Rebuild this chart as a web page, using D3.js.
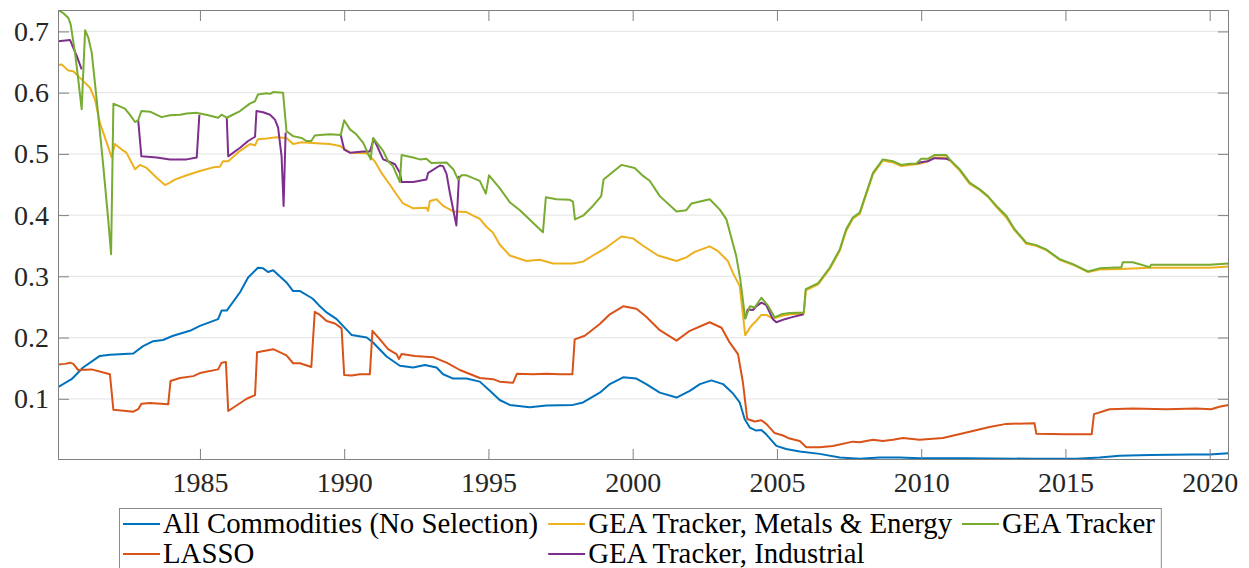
<!DOCTYPE html>
<html lang="en">
<head>
  <meta charset="UTF-8">
  <title>Selection comparison</title>
  <script src="https://cdn.jsdelivr.net/npm/d3@7"></script>
  <style>
    html, body { margin: 0; padding: 0; background: #fff; }
    svg { display: block; }
    svg text { font-family: "Liberation Serif", "Times New Roman", "DejaVu Serif", serif; }
  </style>
</head>
<body>
  <svg id="chart" width="1249" height="568"></svg>
  <script>
    // values, [year, value]
    const allCommodities = [[1980.08,.119],[1980.55,.132],[1980.95,.151],[1981.53,.170],[1981.88,.172],[1982.69,.174],[1983.03,.186],[1983.38,.194],[1983.72,.196],[1984.07,.203],[1984.65,.211],[1985.00,.219],[1985.63,.230],[1985.75,.244],[1985.93,.244],[1986.39,.274],[1986.67,.298],[1987.01,.314],[1987.19,.313],[1987.36,.307],[1987.54,.310],[1988.00,.290],[1988.23,.276],[1988.47,.276],[1988.86,.265],[1988.92,.263],[1989.16,.251],[1989.39,.241],[1989.74,.230],[1990.26,.204],[1990.78,.200],[1991.00,.192],[1991.47,.169],[1991.93,.154],[1992.39,.151],[1992.80,.155],[1993.20,.151],[1993.43,.140],[1993.78,.133],[1994.24,.133],[1994.70,.128],[1995.05,.113],[1995.39,.098],[1995.74,.090],[1996.43,.086],[1997.01,.089],[1997.93,.090],[1998.28,.094],[1998.86,.110],[1999.21,.124],[1999.67,.135],[2000.13,.133],[2000.47,.124],[2000.94,.110],[2001.52,.102],[2001.98,.113],[2002.33,.124],[2002.73,.130],[2003.13,.124],[2003.47,.109],[2003.71,.094],[2003.88,.067],[2004.06,.053],[2004.28,.048],[2004.46,.049],[2004.63,.042],[2004.98,.023],[2005.32,.018],[2005.79,.014],[2006.48,.010],[2007.18,.004],[2007.87,.002],[2008.56,.004],[2009.26,.004],[2009.94,.003],[2011.57,.003],[2013.86,.002],[2015.38,.002],[2016.18,.004],[2016.88,.007],[2017.92,.008],[2019.41,.009],[2019.99,.009],[2020.65,.011]];

    const lasso = [[1980.08,.156],[1980.32,.157],[1980.50,.159],[1980.61,.157],[1980.78,.147],[1981.25,.148],[1981.88,.140],[1982.00,.082],[1982.45,.080],[1982.69,.079],[1982.86,.083],[1982.97,.092],[1983.27,.093],[1983.90,.091],[1983.98,.129],[1984.31,.134],[1984.77,.137],[1985.00,.142],[1985.63,.148],[1985.75,.159],[1985.90,.160],[1985.98,.080],[1986.62,.100],[1986.91,.106],[1986.98,.176],[1987.31,.179],[1987.54,.181],[1988.00,.171],[1988.23,.158],[1988.47,.158],[1988.86,.152],[1988.98,.242],[1989.16,.237],[1989.39,.227],[1989.68,.223],[1989.91,.215],[1990.00,.139],[1990.26,.138],[1990.54,.140],[1990.89,.140],[1990.98,.211],[1991.24,.197],[1991.52,.181],[1991.81,.173],[1991.90,.165],[1991.99,.173],[1992.45,.170],[1993.08,.168],[1993.55,.159],[1994.01,.147],[1994.70,.134],[1995.16,.132],[1995.39,.128],[1995.85,.126],[1995.99,.141],[1996.54,.140],[1997.01,.141],[1997.47,.140],[1997.91,.140],[1997.99,.197],[1998.34,.203],[1998.86,.222],[1999.21,.238],[1999.67,.251],[2000.13,.247],[2000.47,.234],[2000.94,.212],[2001.52,.195],[2001.98,.211],[2002.67,.225],[2003.08,.216],[2003.36,.192],[2003.65,.173],[2003.82,.127],[2003.97,.067],[2004.23,.063],[2004.46,.065],[2004.63,.059],[2004.92,.044],[2005.21,.040],[2005.44,.035],[2005.79,.031],[2006.02,.021],[2006.48,.021],[2006.94,.023],[2007.63,.030],[2007.87,.029],[2008.33,.033],[2008.67,.031],[2009.02,.033],[2009.37,.036],[2009.94,.033],[2010.75,.036],[2011.57,.045],[2012.37,.054],[2012.95,.059],[2013.93,.060],[2013.99,.043],[2015.03,.042],[2015.91,.042],[2015.99,.075],[2016.53,.083],[2017.33,.084],[2018.49,.083],[2019.53,.084],[2020.05,.083],[2020.34,.087],[2020.65,.090]];

    const metalsEnergy = [[1980.09,.645],[1980.21,.646],[1980.44,.636],[1980.61,.635],[1980.78,.627],[1981.02,.616],[1981.19,.608],[1981.36,.589],[1981.53,.551],[1981.77,.518],[1981.94,.494],[1982.05,.516],[1982.29,.507],[1982.45,.502],[1982.75,.475],[1982.92,.482],[1983.15,.477],[1983.50,.461],[1983.79,.449],[1983.96,.453],[1984.13,.458],[1984.54,.465],[1985.00,.472],[1985.46,.478],[1985.69,.479],[1985.80,.488],[1985.98,.488],[1986.39,.505],[1986.73,.516],[1986.91,.514],[1987.01,.524],[1987.31,.525],[1987.66,.527],[1988.00,.526],[1988.23,.516],[1988.52,.519],[1989.16,.517],[1989.50,.516],[1989.85,.513],[1990.20,.502],[1990.78,.501],[1991.06,.488],[1991.29,.469],[1991.58,.450],[1991.81,.434],[1992.04,.419],[1992.39,.411],[1992.85,.412],[1992.91,.407],[1992.97,.423],[1993.20,.426],[1993.43,.415],[1993.78,.406],[1994.24,.405],[1994.47,.399],[1994.70,.394],[1994.93,.381],[1995.16,.371],[1995.39,.352],[1995.74,.334],[1996.32,.325],[1996.78,.327],[1997.24,.321],[1997.93,.321],[1998.28,.324],[1998.62,.334],[1999.09,.347],[1999.61,.365],[2000.01,.362],[2000.36,.350],[2000.88,.334],[2001.52,.325],[2001.86,.331],[2002.15,.340],[2002.67,.349],[2002.96,.341],[2003.30,.325],[2003.47,.306],[2003.71,.284],[2003.90,.204],[2004.11,.219],[2004.28,.227],[2004.46,.237],[2004.63,.237],[2004.86,.231],[2005.15,.235],[2005.44,.238],[2005.93,.239],[2006.00,.277],[2006.43,.287],[2006.83,.312],[2007.18,.342],[2007.40,.374],[2007.63,.394],[2007.87,.402],[2008.33,.467],[2008.67,.489],[2009.02,.486],[2009.31,.480],[2009.60,.482],[2009.94,.484],[2010.23,.488],[2010.46,.494],[2010.87,.494],[2010.99,.489],[2011.33,.473],[2011.68,.451],[2012.03,.441],[2012.31,.430],[2012.61,.413],[2012.95,.396],[2013.24,.375],[2013.53,.360],[2013.64,.353],[2013.99,.350],[2014.33,.343],[2014.80,.327],[2015.26,.319],[2015.78,.307],[2016.18,.311],[2016.94,.312],[2017.92,.314],[2019.41,.314],[2019.99,.314],[2020.65,.316]];

    const geaTracker = [[1980.09,.735],[1980.26,.730],[1980.44,.722],[1980.52,.711],[1980.67,.665],[1980.78,.622],[1980.90,.573],[1981.02,.702],[1981.13,.690],[1981.25,.665],[1981.42,.589],[1981.65,.480],[1981.82,.393],[1981.92,.336],[1982.00,.582],[1982.40,.574],[1982.57,.564],[1982.75,.552],[1982.86,.555],[1982.97,.570],[1983.27,.569],[1983.67,.560],[1983.96,.563],[1984.31,.564],[1984.54,.566],[1984.89,.567],[1985.00,.566],[1985.29,.563],[1985.63,.559],[1985.75,.564],[1985.93,.559],[1986.39,.570],[1986.73,.582],[1986.91,.586],[1987.01,.597],[1987.31,.599],[1987.43,.598],[1987.54,.601],[1987.88,.600],[1988.00,.537],[1988.23,.529],[1988.52,.526],[1988.69,.521],[1988.86,.521],[1988.98,.530],[1989.16,.531],[1989.50,.532],[1989.88,.531],[1990.00,.555],[1990.20,.540],[1990.42,.532],[1990.66,.518],[1990.92,.491],[1991.00,.526],[1991.35,.505],[1991.52,.488],[1991.69,.480],[1991.93,.454],[1991.99,.498],[1992.39,.494],[1992.62,.491],[1992.85,.492],[1993.02,.485],[1993.55,.486],[1993.78,.475],[1993.95,.458],[1994.06,.465],[1994.24,.465],[1994.70,.456],[1994.91,.435],[1995.02,.465],[1995.39,.444],[1995.74,.421],[1996.09,.408],[1996.89,.372],[1996.99,.429],[1997.36,.426],[1997.82,.425],[1997.93,.422],[1998.00,.393],[1998.28,.399],[1998.62,.415],[1998.91,.431],[1998.99,.458],[1999.61,.482],[2000.07,.477],[2000.36,.464],[2000.59,.456],[2000.94,.431],[2001.52,.406],[2001.86,.408],[2002.04,.419],[2002.67,.426],[2003.02,.409],[2003.25,.393],[2003.59,.333],[2003.73,.295],[2003.90,.231],[2004.06,.251],[2004.23,.249],[2004.46,.265],[2004.69,.252],[2004.92,.233],[2005.15,.238],[2005.44,.240],[2005.93,.241],[2006.00,.279],[2006.43,.289],[2006.83,.314],[2007.18,.344],[2007.29,.361],[2007.40,.377],[2007.63,.396],[2007.87,.404],[2008.33,.469],[2008.67,.491],[2009.02,.488],[2009.31,.482],[2009.60,.484],[2009.83,.484],[2010.00,.492],[2010.23,.492],[2010.46,.498],[2010.87,.498],[2010.99,.491],[2011.33,.475],[2011.68,.453],[2012.03,.442],[2012.31,.431],[2012.61,.415],[2012.95,.399],[2013.24,.377],[2013.53,.361],[2013.64,.355],[2013.99,.351],[2014.33,.344],[2014.80,.328],[2015.26,.320],[2015.78,.308],[2016.18,.313],[2016.94,.315],[2016.99,.323],[2017.33,.323],[2017.92,.315],[2017.97,.319],[2019.07,.319],[2019.99,.319],[2020.65,.321]];

    // null = hidden under the GEA Tracker line
    const industrial = [[1980.09,.684],[1980.50,.686],[1980.61,.673],[1980.73,.660],[1980.90,.638],[1980.95,null],[1982.86,.555],[1982.97,.496],[1983.50,.494],[1983.96,.491],[1984.54,.491],[1984.89,.494],[1984.98,.564],[1985.50,null],[1985.93,.559],[1985.98,.496],[1986.39,.510],[1986.67,.521],[1986.91,.528],[1986.96,.570],[1987.19,.568],[1987.43,.564],[1987.60,.556],[1987.71,.543],[1987.83,.496],[1987.90,.415],[1987.97,.535],[1988.50,null],[1989.88,.531],[1990.00,.507],[1990.20,.502],[1990.66,.504],[1990.89,.504],[1991.03,.524],[1991.35,.491],[1991.52,.488],[1991.76,.483],[1991.93,.469],[1991.99,.454],[1992.39,.454],[1992.85,.458],[1992.91,.469],[1993.32,.481],[1993.43,.480],[1993.55,.467],[1993.66,.437],[1993.89,.383],[1993.98,.464],[1995.00,null],[2003.90,.231],[2003.99,.246],[2004.17,.245],[2004.28,.251],[2004.46,.257],[2004.63,.253],[2004.86,.230],[2004.98,.225],[2005.27,.230],[2005.50,.233],[2005.93,.238],[2007.00,null],[2009.83,.484],[2009.94,.486],[2010.23,.488],[2010.46,.493],[2010.87,.492],[2010.99,.490]];

    const seriesNames = ['All Commodities (No Selection)', 'GEA Tracker, Metals & Energy', 'GEA Tracker', 'LASSO', 'GEA Tracker, Industrial'];
    const seriesData = [allCommodities, metalsEnergy, geaTracker, lasso, industrial];
    const seriesColors = ['#0072BD', '#EDB120', '#77AC30', '#D95319', '#7E2F8E'];
    const drawOrder = [0, 3, 1, 4, 2];

    const xTicks = [1985, 1990, 1995, 2000, 2005, 2010, 2015, 2020];
    const yTicks = [0.1, 0.2, 0.3, 0.4, 0.5, 0.6, 0.7];

    const svg = d3.select('#chart');
    const plotL = 58, plotR = 1229, plotT = 10, plotB = 460;

    const x = d3.scaleLinear().domain([1980.08, 2020.67]).range([plotL, plotR]);
    const y = d3.scaleLinear().domain([0, 0.735]).range([plotB, plotT]);

    svg.append('defs').append('clipPath').attr('id', 'plotclip')
      .append('rect').attr('x', plotL).attr('y', plotT)
      .attr('width', plotR - plotL).attr('height', plotB - plotT);

    // grid
    svg.append('g').selectAll('line').data(yTicks).join('line')
      .attr('x1', plotL).attr('x2', plotR)
      .attr('y1', d => y(d)).attr('y2', d => y(d))
      .attr('stroke', '#e8e8e8').attr('stroke-width', 1.2);

    // lines
    const line = d3.line()
      .defined(d => d[1] != null)
      .x(d => x(d[0])).y(d => y(d[1]));

    svg.append('g').attr('clip-path', 'url(#plotclip)')
      .selectAll('path').data(drawOrder).join('path')
      .attr('d', i => line(seriesData[i]))
      .attr('fill', 'none')
      .attr('stroke', i => seriesColors[i])
      .attr('stroke-width', 2)
      .attr('stroke-linejoin', 'round');

    // axes, ticks pointing inward on all four sides
    const styleAxis = g => {
      g.attr('font-family', null).attr('font-size', null);
      g.select('.domain').remove();
      g.selectAll('.tick line').attr('stroke', '#808080');
      g.selectAll('.tick text').attr('fill', '#262626').style('font-size', '28px');
    };

    svg.append('g').attr('transform', `translate(0,${plotB})`)
      .call(d3.axisBottom(x).tickValues(xTicks).tickFormat(d3.format('d'))
        .tickSizeInner(-11).tickSizeOuter(0).tickPadding(12))
      .call(styleAxis);
    svg.append('g').attr('transform', `translate(0,${plotT})`)
      .call(d3.axisTop(x).tickValues(xTicks).tickFormat('').tickSizeInner(-11).tickSizeOuter(0))
      .call(styleAxis);
    svg.append('g').attr('transform', `translate(${plotL},0)`)
      .call(d3.axisLeft(y).tickValues(yTicks).tickFormat(d3.format('.1f'))
        .tickSizeInner(-11).tickSizeOuter(0).tickPadding(9))
      .call(styleAxis);
    svg.append('g').attr('transform', `translate(${plotR},0)`)
      .call(d3.axisRight(y).tickValues(yTicks).tickFormat('').tickSizeInner(-11).tickSizeOuter(0))
      .call(styleAxis);

    svg.append('rect')
      .attr('x', plotL + 0.5).attr('y', plotT + 0.5)
      .attr('width', plotR - plotL - 1).attr('height', plotB - plotT - 1)
      .attr('fill', 'none').attr('stroke', '#808080').attr('stroke-width', 1);

    // legend: 3 columns, filled row by row
    const legend = svg.append('g');
    const legX = 119, legY = 508, rowH = 30, lineW = 37, fontSize = 30, squeeze = 0.96;
    const box = legend.append('rect')
      .attr('x', legX + 0.5).attr('y', legY + 0.5).attr('height', 80)
      .attr('fill', '#fff').attr('stroke', '#8c8c8c');

    const items = legend.selectAll('g.item').data(seriesNames).join('g').attr('class', 'item');
    items.append('line')
      .attr('x1', 0).attr('x2', lineW).attr('y1', 0).attr('y2', 0)
      .attr('stroke', (d, i) => seriesColors[i]).attr('stroke-width', 2);
    items.append('text')
      .attr('x', lineW + 3).attr('y', 9)
      .style('font-size', fontSize + 'px').attr('fill', '#000')
      .text(d => d);

    const widths = [];
    items.each(function (d, i) {
      const t = d3.select(this).select('text');
      const len = t.node().getComputedTextLength() * squeeze;
      t.attr('textLength', len).attr('lengthAdjust', 'spacingAndGlyphs');
      const w = lineW + 3 + len;
      const c = i % 3;
      widths[c] = Math.max(widths[c] || 0, w);
    });
    const colGap = 10;
    const colX = [legX + 4];
    colX[1] = colX[0] + widths[0] + colGap;
    colX[2] = colX[1] + widths[1] + colGap;
    items.attr('transform', (d, i) => `translate(${colX[i % 3]},${legY + 16 + Math.floor(i / 3) * rowH})`);
    box.attr('width', colX[2] + widths[2] + 6 - legX);
  </script>
</body>
</html>
